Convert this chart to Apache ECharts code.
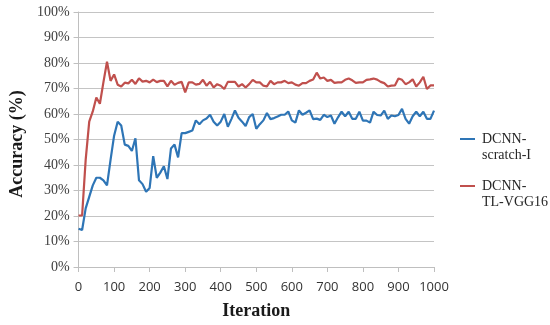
<!DOCTYPE html>
<html>
<head>
<meta charset="utf-8">
<script src="https://cdn.jsdelivr.net/npm/echarts@6/dist/echarts.min.js"></script>
<style>html,body{margin:0;padding:0;background:#fff;}#c{width:550px;height:325px;}</style>
</head>
<body>
<div id="c"></div>
<script>
var iterations = [];
for (var k = 0; k <= 100; k++) iterations.push(k * 10);

var scratchI = [15,14.5,23,27.5,32,35,35,34,32,42,
51.5,57,55.5,48,47.5,45.5,50.5,34,32.5,29.5,
31,43.5,35,37,39.5,34.5,46.5,48,43,52.5,
52.5,53,53.5,57.5,56,57.5,58.2,59.7,57,55.5,
57,60,55,58,61.4,58.5,57,55.3,58.8,60,
54.2,56,57.5,60.4,58,58.4,59,59.7,59.7,61,
57.5,56.6,61.4,59.7,60.5,61.4,58,58.2,57.7,59.7,
58.8,59.4,56.2,58.7,60.9,59.1,60.9,58.1,58.1,60.9,
57.4,57.4,56.6,60.9,59.6,59.4,61.3,58.1,59.4,59.1,
59.6,62,58.1,56.2,59.1,60.9,59.1,60.9,58.1,58.1,
61.3];

var tlVGG16 = [20.2,20.2,42,57,61,66.5,64,72.5,80.5,73,
75.5,71.5,70.8,72.3,72,73.4,71.8,74,72.7,73,
72.4,73.5,72.5,73,73,70.8,73,71.5,72.2,72.6,
68.5,72.4,72.4,71.5,71.8,73.4,71.1,72.6,70.4,71.7,
71.1,69.8,72.6,72.6,72.6,70.8,71.7,70.4,71.7,73.4,
72.4,72.4,71.1,70.8,73,71.7,72.4,72.4,73,72.1,
72.4,71.5,71.1,72.1,72.1,73,73.5,76.2,73.9,74.3,
73,73.4,72.2,72.4,72.4,73.4,73.9,73.2,72.2,72.4,
72.4,73.4,73.6,73.9,73.5,72.6,72.1,70.8,71.1,71.2,
73.9,73.4,71.7,72.4,73.6,70.8,72.4,74.6,69.8,71.2,
71.2];

var seriesNames = ['DCNN-scratch-I', 'DCNN-TL-VGG16'];
var legendLabels = {'DCNN-scratch-I': 'DCNN-\nscratch-I', 'DCNN-TL-VGG16': 'DCNN-\nTL-VGG16'};

function pairs(vals) {
  return iterations.map(function (x, i) { return [x, vals[i]]; });
}

var chart = echarts.init(document.getElementById('c'), null, {renderer: 'canvas'});
chart.setOption({
  animation: false,
  backgroundColor: '#ffffff',
  grid: {left: 71, right: 116, top: 12, bottom: 56},
  legend: {
    orient: 'vertical',
    left: 460,
    top: 115,
    padding: 0,
    itemGap: -1,
    itemWidth: 15,
    itemHeight: 2,
    icon: 'rect',
    data: seriesNames,
    formatter: function (n) { return '\n' + legendLabels[n]; },
    textStyle: {fontFamily: 'Liberation Serif', fontSize: 14, color: '#262626', lineHeight: 16, padding: [0, 0, 0, 2]}
  },
  xAxis: {
    type: 'value',
    min: 0, max: 1000, interval: 100,
    name: 'Iteration',
    nameLocation: 'middle',
    nameGap: 35,
    nameTextStyle: {fontFamily: 'Liberation Serif', fontWeight: 'bold', fontSize: 18, color: '#1a1a1a'},
    axisLine: {show: true, lineStyle: {color: '#bfbfbf', width: 1}},
    axisTick: {show: true, length: 5, lineStyle: {color: '#bfbfbf'}},
    axisLabel: {margin: 14, fontFamily: 'Open Sans', fontSize: 13, color: '#333333',
      formatter: function (v) { return String(v); }},
    splitLine: {show: false}
  },
  yAxis: {
    type: 'value',
    min: 0, max: 100, interval: 10,
    name: 'Accuracy (%)',
    nameLocation: 'middle',
    nameGap: 47,
    nameTextStyle: {fontFamily: 'Liberation Serif', fontWeight: 'bold', fontSize: 18, color: '#1a1a1a', padding: [0, 9, 0, 0]},
    axisLine: {show: true, lineStyle: {color: '#bfbfbf', width: 1}},
    axisTick: {show: true, length: 5, lineStyle: {color: '#bfbfbf'}},
    axisLabel: {margin: 9, formatter: '{value}%', fontFamily: 'Liberation Serif', fontSize: 14, color: '#404040'},
    splitLine: {show: true, lineStyle: {color: '#c4c4c4', width: 1}}
  },
  series: [
    {
      name: seriesNames[0], type: 'line', data: pairs(scratchI),
      showSymbol: false, symbol: 'none',
      lineStyle: {color: '#2e75b6', width: 2.2},
      itemStyle: {color: '#2e75b6'}
    },
    {
      name: seriesNames[1], type: 'line', data: pairs(tlVGG16),
      showSymbol: false, symbol: 'none',
      lineStyle: {color: '#c0504d', width: 2.2},
      itemStyle: {color: '#c0504d'}
    }
  ]
});
</script>
</body>
</html>
